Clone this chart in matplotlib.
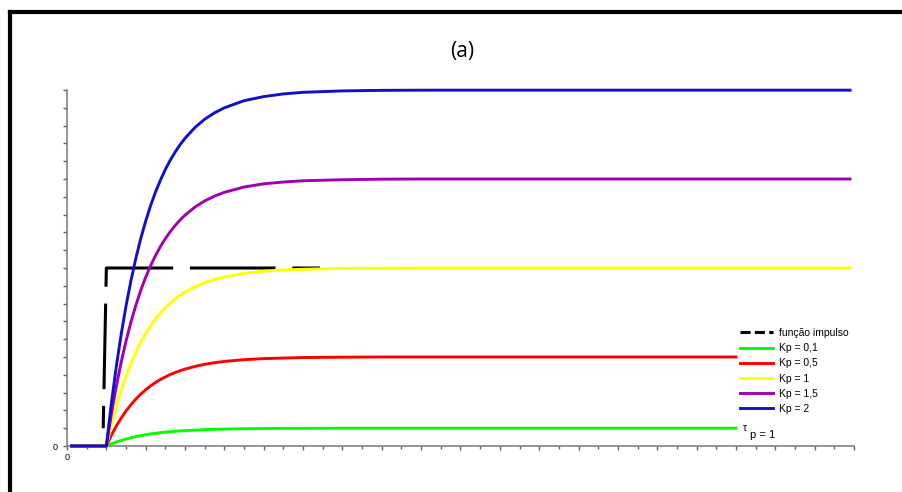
import matplotlib
matplotlib.use('Agg')
import matplotlib.pyplot as plt
from matplotlib.lines import Line2D

# Valores (resposta ao degrau, tau_p = 1)
t_inicio = 0.12
t_subida = [1.0, 1.125, 1.25, 1.375, 1.5, 1.625, 1.75, 1.875, 2.0,
            2.125, 2.25, 2.375, 2.5, 2.625, 2.75, 2.875, 3.0,
            3.25, 3.5, 3.75, 4.0, 4.5, 5.0, 5.5, 6.0, 7.0, 8.0, 9.0]
t_fim_longo = 19.9   # azul, roxo, amarelo
t_fim_curto = 17.0   # vermelho e verde param antes da legenda

y_kp2 = [0, .235, .442, .625, .787, .929, 1.055, 1.166, 1.264,
         1.351, 1.427, 1.494, 1.554, 1.606, 1.652, 1.693, 1.729,
         1.789, 1.836, 1.872, 1.900, 1.940, 1.963, 1.978, 1.987, 1.995, 1.998, 1.999]
y_kp15 = [0, .176, .332, .469, .590, .697, .791, .875, .948,
          1.013, 1.070, 1.121, 1.165, 1.205, 1.239, 1.270, 1.297,
          1.342, 1.377, 1.404, 1.425, 1.455, 1.473, 1.483, 1.490, 1.496, 1.499, 1.500]
y_kp1 = [0, .118, .221, .313, .394, .465, .528, .583, .632,
         .675, .714, .747, .777, .803, .826, .847, .865,
         .895, .918, .936, .950, .970, .982, .989, .993, .998, .999, 1.000]
y_kp05 = [0, .059, .111, .156, .197, .232, .264, .292, .316,
          .338, .357, .374, .388, .402, .413, .423, .432,
          .447, .459, .468, .475, .485, .491, .494, .497, .499, .500, .500]
y_kp01 = [0, .012, .022, .031, .039, .046, .053, .058, .063,
          .068, .071, .075, .078, .080, .083, .085, .086,
          .089, .092, .094, .095, .097, .098, .099, .099, .100, .100, .100]

# Função "impulso" (tracejada)
t_impulso = [0.92, 1.0, 6.43]
y_impulso = [0.1, 1.0, 1.0]

rotulos = ['Kp = 0,1', 'Kp = 0,5', 'Kp = 1', 'Kp = 1,5', 'Kp = 2']
cores = ['#00ff00', '#ff0000', '#ffff00', '#a000b0', '#1010c8']

plt.rcParams['font.family'] = ['Liberation Sans', 'DejaVu Sans']


def serie(valores, t_fim):
    t = [t_inicio] + t_subida + [t_fim]
    y = [0] + valores + [valores[-1]]
    return t, y


fig = plt.figure(figsize=(9.03, 4.92), dpi=100)
ax = fig.add_axes([67 / 903, 1 - 446 / 492, 787 / 903, 356 / 492])

curvas = [(y_kp01, t_fim_curto), (y_kp05, t_fim_curto), (y_kp1, t_fim_longo),
          (y_kp15, t_fim_longo), (y_kp2, t_fim_longo)]

ax.plot(t_impulso, y_impulso, color='black', lw=2.2,
        linestyle=(20.7, (28, 5.5)), clip_on=False, zorder=3)

for (vals, tf), cor in zip(curvas, cores):
    t, y = serie(vals, tf)
    ax.plot(t, y, color=cor, lw=2.1, clip_on=False, zorder=4,
            solid_joinstyle='round')

ax.set_xlim(0, 20)
ax.set_ylim(0, 2.0)

# eixos estilo Maple
for lado in ['top', 'right']:
    ax.spines[lado].set_visible(False)
for lado in ['left', 'bottom']:
    ax.spines[lado].set_color('#808080')
    ax.spines[lado].set_linewidth(1.2)

ax.set_yticks([i * 0.1 for i in range(21)])
ax.set_yticklabels(['0'] + [''] * 20)
ax.set_xticks(range(21))
ax.set_xticklabels(['0'] + [''] * 20)
ax.set_xticks([i + 0.5 for i in range(20)], minor=True)
ax.tick_params(axis='both', colors='#606060', labelcolor='black', labelsize=6.5,
               length=3, width=1, pad=2)
ax.tick_params(axis='y', pad=4)
ax.tick_params(axis='x', which='minor', colors='#606060', length=2, width=1)

# legenda
handles = [Line2D([], [], color='black', lw=2.2, dashes=(3.3, 1.4))]
handles += [Line2D([], [], color=c, lw=2.1) for c in cores]
ax.legend(handles, ['função impulso'] + rotulos, loc='upper left',
          bbox_to_anchor=((740 - 67) / 787, (446 - 328) / 356),
          frameon=False, fontsize=7.5, handlelength=3.2, handletextpad=0.5,
          labelspacing=0.5, borderpad=0, borderaxespad=0)

ax.text((743 - 67) / 787, (446 - 428) / 356, 'τ', transform=ax.transAxes,
        fontsize=7.5, va='center', ha='left')
ax.text((750 - 67) / 787, (446 - 435) / 356, 'p = 1', transform=ax.transAxes,
        fontsize=8, va='center', ha='left')

# título
fig.text(462 / 903, 1 - 51 / 492, '(a)', fontsize=15, family='Open Sans',
         ha='center', va='center')

# moldura preta (esquerda e topo)
fig.add_artist(Line2D([10 / 903, 10 / 903], [0, 1 - 11.5 / 492], color='black',
                      lw=3, transform=fig.transFigure, solid_capstyle='projecting'))
fig.add_artist(Line2D([10 / 903, 1], [1 - 11.5 / 492, 1 - 11.5 / 492], color='black',
                      lw=3, transform=fig.transFigure, solid_capstyle='projecting'))

fig.savefig('out.png', dpi=100)
plt.close(fig)
